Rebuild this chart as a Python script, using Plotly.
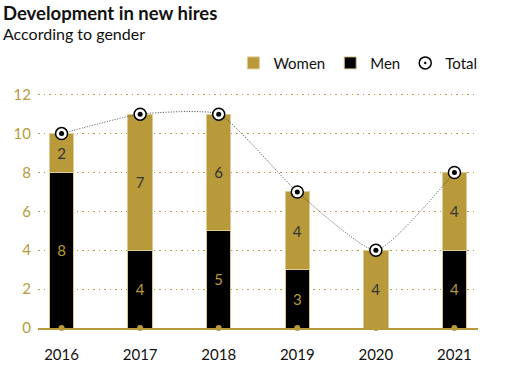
import plotly.graph_objects as go

years = ["2016", "2017", "2018", "2019", "2020", "2021"]
men = [8, 4, 5, 3, 0, 4]
women = [2, 7, 6, 4, 4, 4]
total = [10, 11, 11, 7, 4, 8]
y_ticks = [0, 2, 4, 6, 8, 10, 12]

GOLD = "#B89A3A"
FONT = "Lato"

men_text = [str(v) if v > 0 else "" for v in men]
women_text = [str(v) if v > 0 else "" for v in women]

fig = go.Figure()
fig.add_trace(go.Bar(
    x=years, y=men, name="Men", text=men_text, textposition="inside",
    insidetextanchor="middle", textangle=0,
    textfont=dict(color=GOLD, size=15, family=FONT),
    marker=dict(color="#000000", line=dict(color="#d8c68e", width=1)),
    width=0.31, legendrank=2,
))
fig.add_trace(go.Bar(
    x=years, y=women, name="Women", text=women_text, textposition="inside",
    insidetextanchor="middle", textangle=0,
    textfont=dict(color="#333333", size=15, family=FONT),
    marker=dict(color=GOLD, line=dict(color="#dccb94", width=1)),
    width=0.31, legendrank=1,
))
fig.add_trace(go.Scatter(
    x=years, y=total, mode="lines",
    line=dict(color="#444444", width=1, dash="1px,1.6px", shape="spline", smoothing=0.5),
    showlegend=False, hoverinfo="skip",
))
fig.add_trace(go.Scatter(
    x=years, y=[0] * len(years), mode="markers", marker=dict(color=GOLD, size=6),
    showlegend=False, hoverinfo="skip", cliponaxis=False,
))
fig.add_trace(go.Scatter(
    x=years, y=total, mode="markers", name="Total",
    marker=dict(symbol="circle-dot", color="white", size=12, line=dict(color="black", width=1.5)),
    cliponaxis=False, legendrank=3,
))
fig.add_trace(go.Scatter(
    x=years, y=total, mode="markers", showlegend=False, hoverinfo="skip",
    marker=dict(symbol="circle", color="black", size=5), cliponaxis=False,
))

fig.update_layout(
    width=526, height=378,
    barmode="stack",
    plot_bgcolor="white", paper_bgcolor="white",
    margin=dict(l=38, r=48, t=85, b=50, autoexpand=False),
    font=dict(family=FONT, size=15, color="#111111"),
    annotations=[
        dict(text="<b>Development in new hires</b>", xref="paper", yref="paper",
             x=-0.083, y=1.296, xanchor="left", yanchor="middle", showarrow=False,
             font=dict(size=18.5, family=FONT, color="#111111")),
        dict(text="According to gender", xref="paper", yref="paper",
             x=-0.083, y=1.21, xanchor="left", yanchor="middle", showarrow=False,
             font=dict(size=16, family=FONT, color="#111111")),
    ],
    legend=dict(orientation="h", x=1.01, xanchor="right", y=1.09, yanchor="middle",
                font=dict(size=15, family=FONT, color="#111111"), traceorder="normal",
                itemwidth=30, bgcolor="rgba(0,0,0,0)"),
    xaxis=dict(type="category", range=[-0.3, 5.3], showgrid=False, ticks="",
               showline=True, linecolor=GOLD, linewidth=2,
               tickfont=dict(size=15, color="#111111", family=FONT), ticklabelstandoff=12),
    yaxis=dict(range=[0, 12.5], tickvals=y_ticks, showgrid=True, gridcolor=GOLD, griddash="1.5px,4px",
               gridwidth=1.2, zeroline=False, showline=False, ticks="",
               tickfont=dict(size=15, color=GOLD, family=FONT), ticklabelstandoff=6),
    showlegend=True,
)

fig.write_html("out.html", config={"displayModeBar": False},
               post_script="document.body.style.margin='0';")
